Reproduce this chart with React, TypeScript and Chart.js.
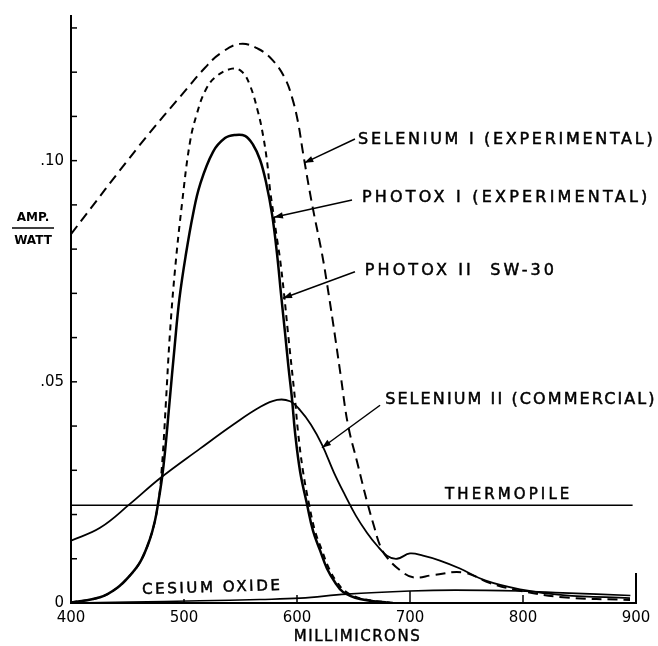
import React, { useEffect, useRef } from 'react';
import { Chart, registerables } from 'chart.js';

Chart.register(...registerables);

// ---- Data (wavelength in millimicrons, response in amp/watt) ----
const seleniumIX = [400, 461.1, 502.7, 518.6, 531.9, 549.6, 565.5, 578.8, 589.4, 595.6, 600.9, 605.3, 613.3, 622.1, 626.5, 633.6, 638.9, 645.1, 653.1, 661.9, 668.1, 673.5, 679.6, 691.2, 702.7, 720.4, 746.9, 770.8, 794.7, 835.4, 894.7];
const seleniumIY = [0.0834, 0.1036, 0.1163, 0.121, 0.1242, 0.1264, 0.1253, 0.1226, 0.1186, 0.1143, 0.1087, 0.1018, 0.0902, 0.079, 0.0723, 0.0604, 0.051, 0.0403, 0.032, 0.023, 0.0174, 0.013, 0.0103, 0.0074, 0.0058, 0.0063, 0.0069, 0.0045, 0.0029, 0.0013, 0.0007];

const photoxIX = [400, 425.7, 440.7, 453.1, 461.9, 469.9, 474.3, 478.0, 480.2, 482.0, 484.0, 487.6, 492.0, 498.2, 505.3, 511.5, 518.6, 527.4, 542.5, 551.3, 558.4, 565.5, 569.9, 573.5, 576.1, 579.6, 582.3, 584.9, 588.5, 592.0, 598.2, 600.9, 605.3, 610.6, 615.9, 622.1, 628.3, 635.4, 643.4, 658.4, 686.7];
const photoxIY = [0.0001, 0.0013, 0.0034, 0.0065, 0.0096, 0.0145, 0.0186, 0.024, 0.03, 0.0365, 0.0454, 0.0611, 0.0752, 0.0902, 0.1042, 0.1107, 0.1157, 0.1188, 0.1208, 0.1201, 0.117, 0.111, 0.1058, 0.0998, 0.0935, 0.0872, 0.0823, 0.0779, 0.07, 0.0611, 0.0461, 0.0387, 0.0298, 0.0224, 0.0163, 0.0119, 0.0078, 0.0047, 0.0025, 0.0009, 0];

const photoxIIX = [400, 425.7, 440.7, 453.1, 461.9, 469.9, 474.3, 477.0, 480.5, 483.2, 487.2, 491.6, 496.0, 501.8, 508.0, 514.2, 525.7, 536.3, 545.1, 554.0, 561.1, 567.3, 572.6, 577.9, 582.3, 585.8, 589.4, 592.5, 595.6, 598.2, 602.7, 608.8, 614.2, 620.4, 626.5, 633.6, 640.7, 655.8, 682.3];
const photoxIIY = [0.0001, 0.0013, 0.0034, 0.0065, 0.0096, 0.0145, 0.0186, 0.0224, 0.0282, 0.0342, 0.0454, 0.0577, 0.0689, 0.079, 0.0879, 0.0946, 0.102, 0.1051, 0.1058, 0.1056, 0.1036, 0.1002, 0.0951, 0.0879, 0.079, 0.07, 0.0611, 0.0532, 0.0461, 0.0387, 0.0298, 0.0224, 0.0163, 0.0119, 0.0078, 0.0047, 0.0025, 0.0009, 0];

const seleniumIIX = [400, 425.7, 452.2, 478.8, 514.2, 543.4, 567.3, 582.3, 593.8, 602.7, 612.4, 622.1, 632.7, 642.5, 652.2, 661.9, 670.8, 679.6, 688.5, 700.0, 711.5, 726.5, 744.2, 766.4, 797.3, 835.4, 894.7];
const seleniumIIY = [0.0141, 0.017, 0.0224, 0.0282, 0.0349, 0.0403, 0.0443, 0.0459, 0.0456, 0.0436, 0.0403, 0.0358, 0.0295, 0.0244, 0.0197, 0.0159, 0.013, 0.0107, 0.01, 0.0112, 0.0107, 0.0096, 0.0078, 0.0051, 0.0031, 0.0018, 0.0011];

const thermopileX = [400, 897];
const thermopileY = [0.0221, 0.0221];

const cesiumX = [400, 452, 514, 567, 603, 644, 700, 740, 797, 835, 895];
const cesiumY = [0, 0.0002, 0.0005, 0.0008, 0.0011, 0.002, 0.0027, 0.0029, 0.0027, 0.0023, 0.0017];

// ---- Axes ----
const xMin = 400;
const xMax = 900;
const xStep = 100;
const yMin = 0;
const yMax = 0.1327;
const yStep = 0.01;
const yLabelValues = [0, 0.05, 0.1];
const yLabelTexts = ['0', '.05', '.10'];
const yTickMarks = [0.01, 0.02, 0.03, 0.04, 0.05, 0.06, 0.07, 0.08, 0.09, 0.1, 0.11, 0.12, 0.13];
const xTickMarks = [500, 600, 700, 800];
const xTitle = 'MILLIMICRONS';
const yTitleTop = 'AMP.';
const yTitleBottom = 'WATT';

// ---- Annotations (data coordinates) ----
const labelTexts = ['SELENIUM I (EXPERIMENTAL)', 'PHOTOX I (EXPERIMENTAL)', 'PHOTOX II  SW-30', 'SELENIUM II (COMMERCIAL)', 'THERMOPILE', 'CESIUM OXIDE'];
const labelX = [654, 657.5, 660, 678, 731, 463];
const labelY = [0.1047, 0.0917, 0.0752, 0.0459, 0.0244, 0.0029];
const arrowFromX = [651.3, 648.7, 651.3, 673.5];
const arrowFromY = [0.1049, 0.0911, 0.0749, 0.0447];
const arrowToX = [606.5, 579.6, 587.6, 622.1];
const arrowToY = [0.0995, 0.0872, 0.0689, 0.0351];

const FONT = '"DejaVu Sans", sans-serif';
const labelSpacing = [2.7, 3.2, 3.1, 2.1, 3.1, 2.6];
const labelSize = [16, 16, 16, 16, 15, 15];

const pts = (xs: number[], ys: number[]) => xs.map((x, i) => ({ x, y: ys[i] }));

const annotPlugin = {
  id: 'annot',
  afterDraw(chart: any) {
    const { ctx, chartArea: a, scales } = chart;
    const xs = scales.x;
    const ys = scales.y;
    const px = (v: number) => xs.getPixelForValue(v);
    const py = (v: number) => ys.getPixelForValue(v);
    ctx.save();
    ctx.strokeStyle = '#000';
    ctx.fillStyle = '#000';
    ctx.lineCap = 'butt';

    // y ticks (inward)
    ctx.lineWidth = 1.5;
    yTickMarks.forEach((v) => {
      ctx.beginPath();
      ctx.moveTo(a.left, py(v));
      ctx.lineTo(a.left + 6, py(v));
      ctx.stroke();
    });
    // x ticks (upward)
    const xLens = [4, 8, 12, 8];
    xTickMarks.forEach((v, i) => {
      ctx.beginPath();
      ctx.moveTo(px(v), a.bottom);
      ctx.lineTo(px(v), a.bottom - xLens[i]);
      ctx.stroke();
    });
    // right end bar at 900
    ctx.lineWidth = 2;
    ctx.beginPath();
    ctx.moveTo(px(xMax), a.bottom);
    ctx.lineTo(px(xMax), a.bottom - 30);
    ctx.stroke();

    // labels
    ctx.textBaseline = 'middle';
    ctx.textAlign = 'left';
    ctx.lineWidth = 0.5;
    labelTexts.forEach((t, i) => {
      ctx.font = `${labelSize[i]}px ${FONT}`;
      (ctx as any).letterSpacing = `${labelSpacing[i]}px`;
      const x = px(labelX[i]);
      const y = py(labelY[i]);
      ctx.save();
      ctx.translate(x, y);
      if (t === 'CESIUM OXIDE') ctx.rotate(-0.03);
      ctx.fillText(t, 0, 0);
      ctx.strokeText(t, 0, 0);
      ctx.restore();
    });
    (ctx as any).letterSpacing = '0px';

    // arrows
    ctx.lineWidth = 1.5;
    arrowFromX.forEach((fx0, i) => {
      const fx = px(fx0);
      const fy = py(arrowFromY[i]);
      const tx = px(arrowToX[i]);
      const ty = py(arrowToY[i]);
      ctx.beginPath();
      ctx.moveTo(fx, fy);
      ctx.lineTo(tx, ty);
      ctx.stroke();
      const ang = Math.atan2(ty - fy, tx - fx);
      const c = Math.cos(ang);
      const s = Math.sin(ang);
      const L = 9;
      const W = 3.2;
      ctx.beginPath();
      ctx.moveTo(tx, ty);
      ctx.lineTo(tx - L * c - W * s, ty - L * s + W * c);
      ctx.lineTo(tx - L * c + W * s, ty - L * s - W * c);
      ctx.closePath();
      ctx.fill();
    });

    // x title
    ctx.font = `15px ${FONT}`;
    (ctx as any).letterSpacing = '1.5px';
    ctx.textAlign = 'center';
    ctx.lineWidth = 0.4;
    ctx.fillText(xTitle, (a.left + a.right) / 2 + 4, a.bottom + 34);
    ctx.strokeText(xTitle, (a.left + a.right) / 2 + 4, a.bottom + 34);
    (ctx as any).letterSpacing = '0px';

    // y title (fraction)
    ctx.font = `bold 12px ${FONT}`;
    ctx.fillText(yTitleTop, 33, 218);
    ctx.fillText(yTitleBottom, 33, 241);
    ctx.lineWidth = 1.5;
    ctx.beginPath();
    ctx.moveTo(12, 228);
    ctx.lineTo(54, 228);
    ctx.stroke();

    ctx.restore();
  },
};

export default function App() {
  const ref = useRef<HTMLCanvasElement>(null);
  useEffect(() => {
    const canvas = ref.current;
    if (!canvas) return;
    const common = { showLine: true, pointRadius: 0, borderColor: '#000', backgroundColor: '#000', fill: false, tension: 0.4, cubicInterpolationMode: 'default' as const };
    const chart = new Chart(canvas, {
      type: 'scatter',
      data: {
        datasets: [
          { ...common, label: 'Selenium I (Experimental)', data: pts(seleniumIX, seleniumIY), borderWidth: 2, borderDash: [10, 6] },
          { ...common, label: 'Photox I (Experimental)', data: pts(photoxIX, photoxIY), borderWidth: 2, borderDash: [6, 5] },
          { ...common, label: 'Photox II SW-30', data: pts(photoxIIX, photoxIIY), borderWidth: 2.5 },
          { ...common, label: 'Selenium II (Commercial)', data: pts(seleniumIIX, seleniumIIY), borderWidth: 1.8 },
          { ...common, label: 'Thermopile', data: pts(thermopileX, thermopileY), borderWidth: 1.6, tension: 0 },
          { ...common, label: 'Cesium Oxide', data: pts(cesiumX, cesiumY), borderWidth: 1.6 },
        ],
      },
      options: {
        responsive: false,
        animation: false,
        layout: { padding: { top: 10, right: 22, left: 0, bottom: 0 } },
        plugins: { legend: { display: false }, tooltip: { enabled: false } },
        scales: {
          x: {
            type: 'linear',
            min: xMin,
            max: xMax,
            afterFit: (s: any) => { s.height = 43; },
            grid: { display: false, drawTicks: false },
            border: { display: true, color: '#000', width: 2 },
            ticks: { stepSize: xStep, color: '#000', padding: 6, maxRotation: 0, font: { family: FONT, size: 15 }, callback: (v: any) => String(v) },
          },
          y: {
            type: 'linear',
            min: yMin,
            max: yMax,
            afterFit: (s: any) => { s.width = 71; },
            grid: { display: false, drawTicks: false },
            border: { display: true, color: '#000', width: 2 },
            ticks: {
              stepSize: yStep,
              color: '#000',
              padding: 7,
              autoSkip: false,
              font: { family: FONT, size: 15 },
              callback: (v: any) => {
                const idx = yLabelValues.findIndex((t) => Math.abs(t - Number(v)) < 1e-6);
                return idx >= 0 ? yLabelTexts[idx] : '';
              },
            },
          },
        },
      },
      plugins: [annotPlugin],
    });
    return () => chart.destroy();
  }, []);
  return (
    <div style={{ position: 'absolute', left: 0, top: 0, width: 658, height: 646, background: '#fff' }}>
      <canvas ref={ref} width={658} height={646} style={{ display: 'block', width: 658, height: 646 }} />
    </div>
  );
}
